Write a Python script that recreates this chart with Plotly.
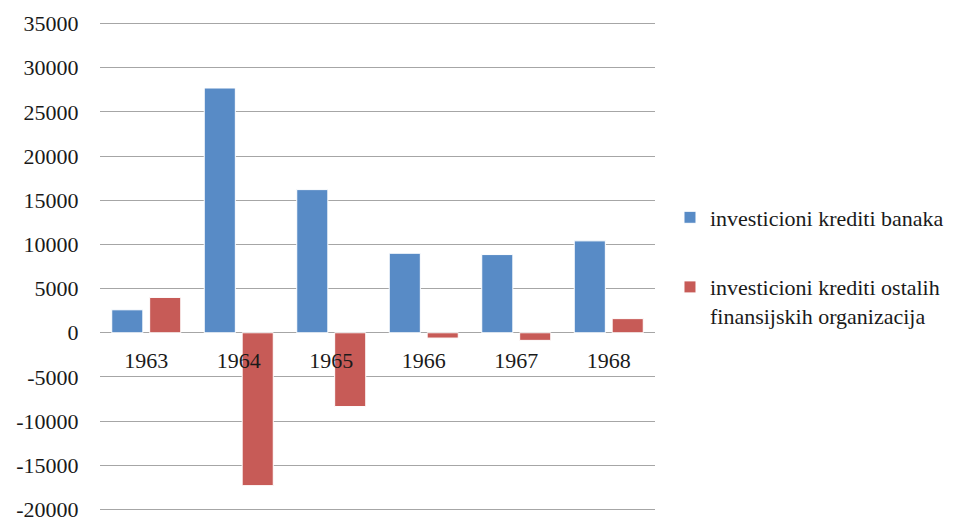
import plotly.graph_objects as go

years = ["1963", "1964", "1965", "1966", "1967", "1968"]
banke = [2600, 27700, 16200, 9000, 8850, 10400]
ostale = [4000, -17300, -8350, -600, -860, 1600]

y_ticks = [-20000, -15000, -10000, -5000, 0, 5000, 10000, 15000, 20000, 25000, 30000, 35000]
y_labels = ["-20000", "-15000", "-10000", "-5000", "0", "5000", "10000",
            "15000", "20000", "25000", "30000", "35000"]

name_banke = "investicioni krediti banaka"
name_ostale = "investicioni krediti ostalih<br>finansijskih organizacija"

BLUE = "#588BC6"
RED = "#C75B57"
FONT = "Liberation Serif"

# petite marge autour de l'étendue pour que les lignes 35000 / -20000 soient tracées
Y_MIN, Y_MAX, PAD = -20000, 35000, 170
y_range = [Y_MIN - PAD, Y_MAX + PAD]

fig = go.Figure()
fig.add_trace(go.Bar(
    x=years, y=banke, name=name_banke, legendgroup="a",
    marker=dict(color=BLUE, line=dict(color="white", width=1)),
))
fig.add_trace(go.Bar(
    x=years, y=ostale, name=name_ostale, legendgroup="b",
    marker=dict(color=RED, line=dict(color="white", width=1)),
))

# la page a une marge de 8 px (body), d'où les marges décalées
fig.update_layout(
    width=968, height=517,
    margin=dict(l=92, r=321, t=13.5, b=13.5),
    paper_bgcolor="white", plot_bgcolor="white",
    font=dict(family=FONT, size=22, color="#1a1a1a"),
    barmode="group", bargap=0.18, bargroupgap=0.18,
    showlegend=True,
    legend=dict(
        x=1.027, xanchor="left", y=0.50, yanchor="middle",
        itemwidth=30, valign="top", tracegroupgap=38,
        font=dict(family=FONT, size=22, color="#1a1a1a"),
    ),
    xaxis=dict(
        anchor="free", position=(-y_range[0]) / (y_range[1] - y_range[0]),
        automargin=False,
        showline=False, showgrid=False, zeroline=False,
        ticks="outside", ticklen=8, tickcolor="rgba(0,0,0,0)",
        tickfont=dict(family=FONT, size=22),
    ),
    yaxis=dict(
        range=y_range, tickvals=y_ticks, ticktext=y_labels,
        automargin=False,
        showgrid=True, gridcolor="#a6a6a6", gridwidth=1,
        zeroline=False, showline=False,
        ticks="outside", ticklen=16, tickcolor="rgba(0,0,0,0)",
        tickfont=dict(family=FONT, size=22),
    ),
)

fig.write_html("out.html")
